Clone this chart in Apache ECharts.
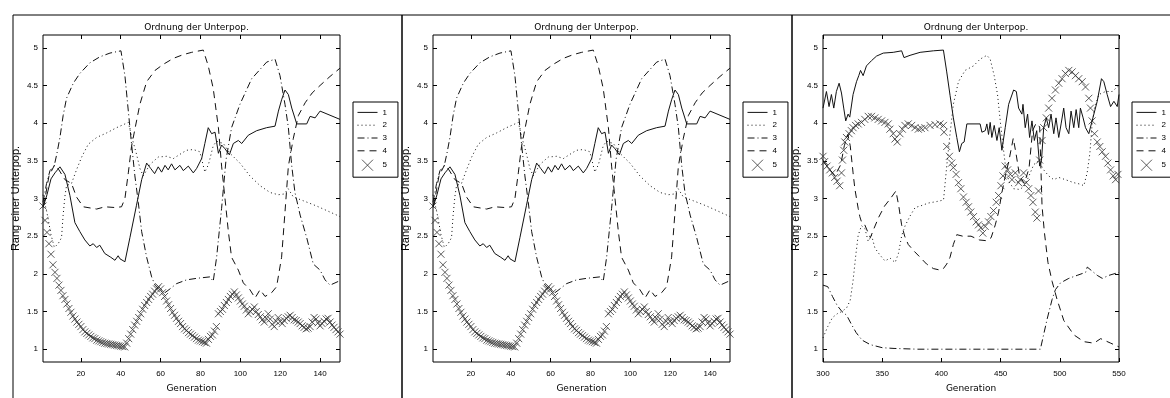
<!DOCTYPE html>
<html>
<head>
<meta charset="utf-8">
<title>Ordnung der Unterpop.</title>
<script src="https://cdn.jsdelivr.net/npm/echarts@6/dist/echarts.min.js"></script>
<style>html,body{margin:0;padding:0;background:#fff;}</style>
</head>
<body>
<div id="main" style="width:1170px;height:398px;"></div>
<script type="text/javascript">
// ---- data: [Generation, Rang] ----
var names = ['1', '2', '3', '4', '5'];
var yTicks = [1, 1.5, 2, 2.5, 3, 3.5, 4, 4.5, 5];
var xTicksA = [20, 40, 60, 80, 100, 120, 140];
var xTicksB = [300, 350, 400, 450, 500, 550];

// left and middle plot (same run)
var a1 = [[1,2.88],[3,3.05],[5,3.26],[7,3.34],[9.5,3.42],[12,3.32],[14.5,3.04],[17,2.68],[19.5,2.56],[22,2.45],[24.5,2.37],[26.2,2.4],[27.9,2.35],[29.5,2.38],[32,2.27],[35,2.22],[37.1,2.18],[38.7,2.24],[39.6,2.2],[42.1,2.16],[44.6,2.48],[47.9,2.91],[50.5,3.25],[53,3.47],[55,3.4],[57,3.33],[58.8,3.42],[60.5,3.35],[62.2,3.44],[63.8,3.38],[65.5,3.46],[67.2,3.38],[69.7,3.44],[71.4,3.37],[73.9,3.43],[76.4,3.34],[78.1,3.4],[80.6,3.53],[82.2,3.73],[83.9,3.94],[85.6,3.86],[87.3,3.88],[89,3.6],[90.6,3.71],[92.3,3.66],[94.5,3.58],[96.5,3.73],[99,3.77],[100.7,3.73],[104,3.84],[108.2,3.9],[113.2,3.94],[117.4,3.96],[119.1,4.16],[120.7,4.31],[122.4,4.44],[124.1,4.38],[125.8,4.2],[128.3,3.99],[133.3,3.99],[135,4.09],[137.5,4.07],[140,4.16],[150,4.05]];
var a2 = [[1,3.05],[3.3,2.77],[5,2.52],[6.7,2.35],[8.6,2.4],[10.3,2.48],[11.1,2.78],[12,3.03],[12.8,3.17],[15.3,3.2],[17.8,3.38],[20.4,3.55],[23.7,3.72],[27.9,3.81],[32.9,3.87],[37.9,3.94],[41.3,3.98],[43.8,4.01],[45.4,3.83],[48,3.58],[49.6,3.4],[51.3,3.3],[54.6,3.45],[58.8,3.55],[63,3.56],[66.4,3.53],[70.5,3.6],[73,3.64],[76.4,3.65],[79.7,3.62],[82.2,3.35],[84,3.45],[86.4,3.7],[88.1,3.76],[91.5,3.73],[94.8,3.6],[99.8,3.47],[104.8,3.3],[109.9,3.17],[114.9,3.08],[119,3.05],[122,3.06],[124,3.13],[126.6,3.02],[131.6,2.97],[138.3,2.9],[145,2.82],[150,2.76]];
var a3 = [[1,2.95],[2.8,3.2],[4.5,3.37],[6.6,3.43],[8,3.6],[9.5,3.81],[11.1,4.1],[12.8,4.33],[16.2,4.53],[19.5,4.66],[24.5,4.8],[29.5,4.88],[34.6,4.93],[40.1,4.96],[42.1,4.63],[43.8,4.16],[45.4,3.73],[47.1,3.3],[48.8,2.95],[50.5,2.56],[53,2.22],[55.5,1.96],[57.2,1.85],[59.7,1.78],[62.2,1.75],[64.7,1.8],[68,1.87],[73,1.92],[78,1.94],[84.8,1.96],[86.4,1.9],[88.1,2.22],[90.6,2.87],[92.8,3.51],[95.6,3.94],[99.8,4.25],[105.7,4.59],[113.2,4.81],[117.4,4.85],[119.9,4.63],[122.4,4.25],[124.1,3.94],[125.8,3.43],[127.4,3.08],[130,2.78],[133.3,2.48],[136.6,2.13],[140,2.05],[142.5,1.92],[145,1.85],[149.2,1.9],[150,1.92]];
var a4 = [[1,2.9],[2,3.0],[4,3.3],[6.9,3.45],[9,3.38],[12,3.25],[15.3,3.2],[17.8,3.02],[21.2,2.89],[27.9,2.86],[32.1,2.89],[37.1,2.88],[40.4,2.89],[42.1,3.0],[43.8,3.34],[45.4,3.69],[47.1,3.92],[49.6,4.25],[53,4.55],[57.2,4.7],[61.3,4.78],[66.4,4.86],[71.4,4.91],[75.6,4.94],[81.4,4.97],[83.9,4.76],[86.4,4.46],[89,3.94],[90.6,3.43],[92.3,3.0],[94,2.56],[95.6,2.22],[99,2.05],[101.5,1.88],[104.8,1.79],[107.4,1.68],[109.9,1.79],[112.4,1.7],[115.7,1.75],[118.2,1.83],[120.7,2.22],[122.4,2.82],[124.1,3.43],[126.6,3.8],[129.1,4.1],[132.5,4.27],[136,4.4],[140,4.5],[145,4.62],[150,4.73]];
var a5 = [[1,2.9],[2,2.71],[3,2.55],[4,2.4],[5,2.26],[6,2.12],[7,2.02],[8,1.94],[9,1.85],[10,1.78],[11,1.71],[12,1.66],[13,1.6],[14,1.54],[15,1.49],[16,1.44],[17,1.4],[18,1.36],[19,1.33],[20,1.3],[21,1.26],[22,1.23],[23,1.21],[24,1.19],[25,1.17],[26,1.15],[27,1.14],[28,1.12],[29,1.11],[30,1.1],[31,1.09],[32,1.08],[33,1.075],[34,1.07],[35,1.065],[36,1.06],[37,1.055],[38,1.05],[39,1.045],[40,1.04],[41,1.035],[42,1.03],[43,1.08],[44,1.14],[45,1.2],[46,1.26],[47,1.32],[48,1.37],[49,1.42],[50,1.47],[51,1.53],[52,1.58],[53,1.62],[54,1.66],[55,1.7],[56,1.73],[57,1.77],[58,1.8],[59,1.83],[60,1.8],[61,1.75],[62,1.7],[63,1.64],[64,1.59],[65,1.54],[66,1.49],[67,1.45],[68,1.41],[69,1.37],[70,1.34],[71,1.3],[72,1.27],[73,1.25],[74,1.22],[75,1.2],[76,1.18],[77,1.16],[78,1.14],[79,1.12],[80,1.11],[81,1.1],[82,1.09],[83,1.08],[84,1.13],[85,1.17],[86,1.19],[87,1.24],[88,1.3],[89,1.47],[90,1.5],[91,1.53],[92,1.58],[93,1.62],[94,1.66],[95,1.7],[96,1.73],[97,1.76],[98,1.72],[99,1.68],[100,1.64],[101,1.6],[102,1.57],[103,1.52],[104,1.47],[105,1.5],[106,1.53],[107,1.56],[108,1.5],[109,1.46],[110,1.43],[111,1.39],[112,1.36],[113,1.41],[114,1.47],[115,1.4],[116,1.33],[117,1.3],[118,1.37],[119,1.42],[120,1.37],[121,1.34],[122,1.38],[123,1.41],[124,1.43],[125,1.45],[126,1.42],[127,1.39],[128,1.38],[129,1.36],[130,1.34],[131,1.31],[132,1.29],[133,1.27],[134,1.28],[135,1.3],[136,1.36],[137,1.42],[138,1.4],[139,1.35],[140,1.31],[141,1.34],[142,1.37],[143,1.4],[144,1.41],[145,1.36],[146,1.32],[147,1.29],[148,1.26],[149,1.23],[150,1.2]];

// right plot
var b1 = [[300,4.2],[300.6,4.22],[302.9,4.42],[305.1,4.22],[307.1,4.38],[309.1,4.2],[311.3,4.42],[313.6,4.53],[315.6,4.4],[317.5,4.2],[319.2,4.03],[321.2,4.12],[322.6,4.08],[325.4,4.38],[328.3,4.55],[330.2,4.63],[331.7,4.7],[333.9,4.63],[336.7,4.76],[341,4.83],[345.2,4.89],[350.9,4.93],[359.3,4.94],[366.4,4.96],[368.4,4.87],[373.5,4.9],[382,4.94],[393.2,4.96],[401.7,4.97],[404.5,4.68],[407.3,4.37],[410.1,4.07],[413,3.81],[415.2,3.62],[417.2,3.73],[419.2,3.75],[421.5,3.99],[432.7,3.99],[434.2,3.88],[437,3.9],[438.4,3.99],[439.8,3.85],[441.2,4.01],[442.6,3.81],[444.6,3.97],[446.9,3.77],[448.8,3.94],[451.1,3.64],[453.9,3.94],[456.8,4.25],[461,4.44],[463.3,4.42],[465.2,4.2],[468,4.12],[468.9,4.25],[470.8,3.94],[472.8,4.12],[474.5,3.81],[476.5,4.03],[478.5,3.77],[480.5,3.9],[483,3.43],[484.5,3.5],[486.4,3.94],[488.6,4.07],[490.6,3.94],[492.6,4.12],[494.9,3.86],[496.8,4.07],[499.1,3.81],[501.1,3.99],[503.3,4.2],[505.3,3.94],[507.6,3.86],[509.5,4.16],[511.8,3.94],[513.8,4.18],[516,3.94],[517.4,4.2],[519.7,4.07],[521.7,3.94],[524.5,3.86],[527.3,4.03],[531.6,4.29],[535.2,4.59],[537.2,4.55],[540,4.38],[542.9,4.22],[545.7,4.29],[548.5,4.22],[550,4.38]];
var b2 = [[300,1.15],[304,1.3],[308,1.42],[312,1.47],[316,1.5],[320,1.55],[323,1.65],[325.4,1.91],[327.7,2.25],[329.7,2.51],[332.5,2.64],[335.4,2.6],[338.2,2.43],[341,2.51],[343.9,2.34],[348.1,2.25],[352.4,2.17],[356.6,2.21],[360.9,2.15],[363.7,2.27],[366.5,2.51],[369.4,2.64],[373.6,2.77],[377.8,2.88],[382.1,2.9],[389.1,2.94],[396.2,2.96],[401.8,2.98],[404.5,3.43],[407.3,3.86],[410.1,4.25],[414.4,4.55],[420,4.7],[427.1,4.76],[432.7,4.85],[438.4,4.9],[441.2,4.85],[444.6,4.63],[447.4,4.38],[449.7,4.03],[452.5,3.64],[454.8,3.34],[457.6,3.21],[461,3.13],[466,3.12],[470,3.16],[474,3.3],[478,3.45],[482,3.5],[486.4,3.38],[490.6,3.3],[494.9,3.25],[499.1,3.28],[504.7,3.25],[511.8,3.21],[517.4,3.19],[520.3,3.17],[523.1,3.34],[525.4,3.6],[527.3,3.99],[529.3,4.2],[533,4.38],[538.6,4.42],[544.3,4.42],[548.5,4.48],[550,4.5]];
var b3 = [[300,1.85],[304,1.83],[308,1.7],[312,1.58],[316,1.5],[320,1.45],[324,1.33],[328,1.22],[333,1.12],[340,1.06],[350,1.02],[360,1.01],[380,1.0],[420,1.0],[460,1.0],[483.6,1.0],[489.3,1.4],[493.5,1.66],[496.3,1.79],[500.6,1.88],[507.6,1.94],[514.7,1.98],[521.8,2.02],[523.2,2.09],[531.6,1.98],[535.9,1.94],[541.5,1.98],[550,2.02]];
var b4 = [[300,3.5],[305,3.4],[310,3.3],[315,3.45],[318,3.7],[321,3.85],[323,3.7],[325.4,3.34],[326.9,3.13],[328.3,3.0],[329.7,2.87],[331.1,2.76],[332.5,2.69],[335.3,2.65],[338,2.55],[340,2.48],[343,2.6],[347,2.75],[352,2.9],[357,3.0],[361.6,3.1],[364,2.9],[366.4,2.65],[369,2.5],[372,2.39],[377,2.3],[382,2.22],[387.5,2.13],[393.2,2.07],[398.8,2.05],[401.7,2.07],[404.5,2.13],[407.3,2.22],[410.1,2.39],[413,2.52],[418,2.5],[425,2.5],[432,2.45],[438,2.44],[442,2.48],[445.5,2.65],[448.3,2.82],[451.1,3.08],[454,3.3],[457,3.5],[460.7,3.8],[463,3.6],[466,3.3],[470,3.2],[474,3.4],[477,3.9],[480,4.0],[483,3.95],[485,2.9],[487,2.55],[490,2.15],[493.5,1.9],[497.7,1.66],[503.4,1.38],[511.9,1.19],[520.3,1.1],[528.8,1.08],[534.5,1.14],[543,1.08],[550,1.03]];
var b5 = [[300,3.56],[301.4,3.49],[303.4,3.43],[305.7,3.38],[307.9,3.34],[309.9,3.28],[311.9,3.23],[314.1,3.17],[315.6,3.34],[316.4,3.51],[317.5,3.64],[318.4,3.75],[319.8,3.81],[322,3.86],[324,3.9],[325.4,3.94],[327.5,3.97],[329.7,3.99],[332.5,4.01],[335.3,4.05],[338.2,4.09],[341,4.09],[343.8,4.07],[346.6,4.05],[349.5,4.03],[352.3,4.01],[355.1,3.99],[356.5,3.92],[359.3,3.86],[360.8,3.79],[362.7,3.75],[365,3.86],[367,3.92],[369.2,3.97],[372,3.99],[374.9,3.97],[377.7,3.94],[380.5,3.92],[383,3.93],[386.1,3.94],[390.4,3.97],[394.6,3.98],[398.8,3.99],[401.7,3.97],[402.2,3.88],[404.5,3.69],[406.8,3.56],[408.7,3.47],[410.1,3.41],[412.4,3.32],[414.4,3.21],[416.4,3.13],[418.6,3.02],[420.9,2.95],[422.9,2.89],[424.8,2.82],[427.1,2.76],[429.4,2.69],[431.3,2.65],[433.3,2.61],[435,2.54],[437,2.63],[439.8,2.69],[441.8,2.76],[444,2.84],[446.3,2.95],[448.3,3.04],[450.3,3.17],[452,3.3],[453.9,3.43],[455.9,3.38],[458.2,3.32],[459.6,3.25],[462.4,3.34],[465.2,3.21],[466.6,3.25],[469.4,3.34],[471.7,3.21],[473.7,3.13],[475.6,3.04],[477.3,2.95],[479.3,2.82],[480.7,2.74],[482,3.1],[483,3.51],[485,3.77],[486.4,3.94],[488.6,4.07],[490.6,4.2],[493.4,4.33],[496.3,4.44],[499.1,4.53],[501.9,4.59],[504.7,4.66],[507.6,4.7],[510.4,4.68],[513.2,4.63],[516,4.59],[518.9,4.55],[521.7,4.48],[524.5,4.33],[525.9,4.2],[527.3,4.03],[529.3,3.86],[531.6,3.75],[533.8,3.69],[535.8,3.62],[538.6,3.56],[540.6,3.47],[542.9,3.38],[545.1,3.3],[547.1,3.25],[549.1,3.32]];

// ---- layout ----
var panels = [
    { left: 43,  width: 297, xmin: 1,   xmax: 150, xticks: xTicksA, data: [a1, a2, a3, a4, a5], frame: [10.5, 389] },
    { left: 433, width: 297, xmin: 1,   xmax: 150, xticks: xTicksA, data: [a1, a2, a3, a4, a5], frame: [399.5, 390] },
    { left: 823, width: 296, xmin: 300, xmax: 550, xticks: xTicksB, data: [b1, b2, b3, b4, b5], frame: [789.5, 420] }
];
var gridTop = 35, gridHeight = 336;
var dashes = ['solid', [1, 3], [7, 3, 1, 3], [7, 5]];
var xMark = 'path://M0,0L10,10M10,0L0,10';
var ink = '#111';
var labelFont = { fontSize: 8, color: '#000', fontFamily: 'Liberation Sans, Arial, sans-serif' };

var myChart = echarts.init(document.getElementById('main'), null, { renderer: 'canvas' });

var grids = [], xAxes = [], yAxes = [], series = [], titles = [], legends = [], frames = [];

// legend entries: line sample for 1-4 (no symbol), cross for 5
var legendItems = names.map(function (n, k) {
    if (k < 4) {
        return { name: n, itemStyle: { opacity: 0 },
                 lineStyle: { color: ink, width: 1, type: dashes[k], opacity: 1 } };
    }
    return { name: n, icon: xMark,
             itemStyle: { color: 'rgba(0,0,0,0)', borderColor: '#333', borderWidth: 1 } };
});

panels.forEach(function (p, i) {
    grids.push({ left: p.left, top: gridTop, width: p.width, height: gridHeight,
        show: true, borderColor: '#000', borderWidth: 1, backgroundColor: 'transparent' });

    var tickStyle = { show: true, inside: true, length: 4, lineStyle: { color: '#000', width: 1 } };
    // bottom + top x axes
    xAxes.push({ gridIndex: i, type: 'value', position: 'bottom', min: p.xmin, max: p.xmax,
        axisLine: { show: false }, splitLine: { show: false },
        axisTick: Object.assign({ customValues: p.xticks }, tickStyle),
        axisLabel: Object.assign({ customValues: p.xticks, margin: 8 }, labelFont),
        name: 'Generation', nameLocation: 'middle', nameGap: 22,
        nameTextStyle: { fontSize: 9, color: '#000', fontFamily: 'DejaVu Sans, sans-serif' } });
    xAxes.push({ gridIndex: i, type: 'value', position: 'top', min: p.xmin, max: p.xmax,
        axisLine: { show: false }, splitLine: { show: false }, axisLabel: { show: false },
        axisTick: Object.assign({ customValues: p.xticks }, tickStyle) });
    // left + right y axes
    yAxes.push({ gridIndex: i, type: 'value', position: 'left', min: 0.83, max: 5.17,
        axisLine: { show: false }, splitLine: { show: false },
        axisTick: Object.assign({ customValues: yTicks }, tickStyle),
        axisLabel: Object.assign({ customValues: yTicks, margin: 5 }, labelFont),
        name: 'Rang einer Unterpop.', nameLocation: 'middle', nameGap: 22, nameRotate: 90,
        nameTextStyle: { fontSize: 11, color: '#000', fontFamily: 'Liberation Sans, Arial, sans-serif' } });
    yAxes.push({ gridIndex: i, type: 'value', position: 'right', min: 0.83, max: 5.17,
        axisLine: { show: false }, splitLine: { show: false }, axisLabel: { show: false },
        axisTick: Object.assign({ customValues: yTicks }, tickStyle) });

    for (var k = 0; k < 4; k++) {
        series.push({ name: names[k], type: 'line', xAxisIndex: 2 * i, yAxisIndex: 2 * i,
            data: p.data[k], symbol: 'none', showSymbol: false, animation: false,
            lineStyle: { color: ink, width: 1, type: dashes[k] }, itemStyle: { color: ink } });
    }
    series.push({ name: names[4], type: 'scatter', xAxisIndex: 2 * i, yAxisIndex: 2 * i,
        data: p.data[4], symbol: xMark, symbolSize: 7, clip: false, animation: false,
        itemStyle: { color: 'rgba(0,0,0,0)', borderColor: '#333', borderWidth: 1 } });

    titles.push({ text: 'Ordnung der Unterpop.', left: p.left + p.width / 2, top: 18, textAlign: 'center',
        textStyle: { fontSize: 9, fontWeight: 'normal', color: '#000', fontFamily: 'DejaVu Sans, sans-serif' } });

    legends.push({ data: legendItems, orient: 'vertical', left: p.left + p.width + 13, top: 102,
        padding: [6, 11, 6, 4], itemGap: 4, itemWidth: 20, itemHeight: 11,
        borderColor: '#000', borderWidth: 1, backgroundColor: '#fff', selectedMode: false,
        textStyle: labelFont });

    frames.push({ type: 'rect', left: p.frame[0], top: 12.5, z: -1,
        shape: { x: 0, y: 0, width: p.frame[1], height: 420 },
        style: { fill: null, stroke: '#000', lineWidth: 1 } });
});

var option = {
    backgroundColor: '#fff',
    animation: false,
    title: titles,
    legend: legends,
    grid: grids,
    xAxis: xAxes,
    yAxis: yAxes,
    series: series,
    graphic: frames
};
myChart.setOption(option);
</script>
</body>
</html>
